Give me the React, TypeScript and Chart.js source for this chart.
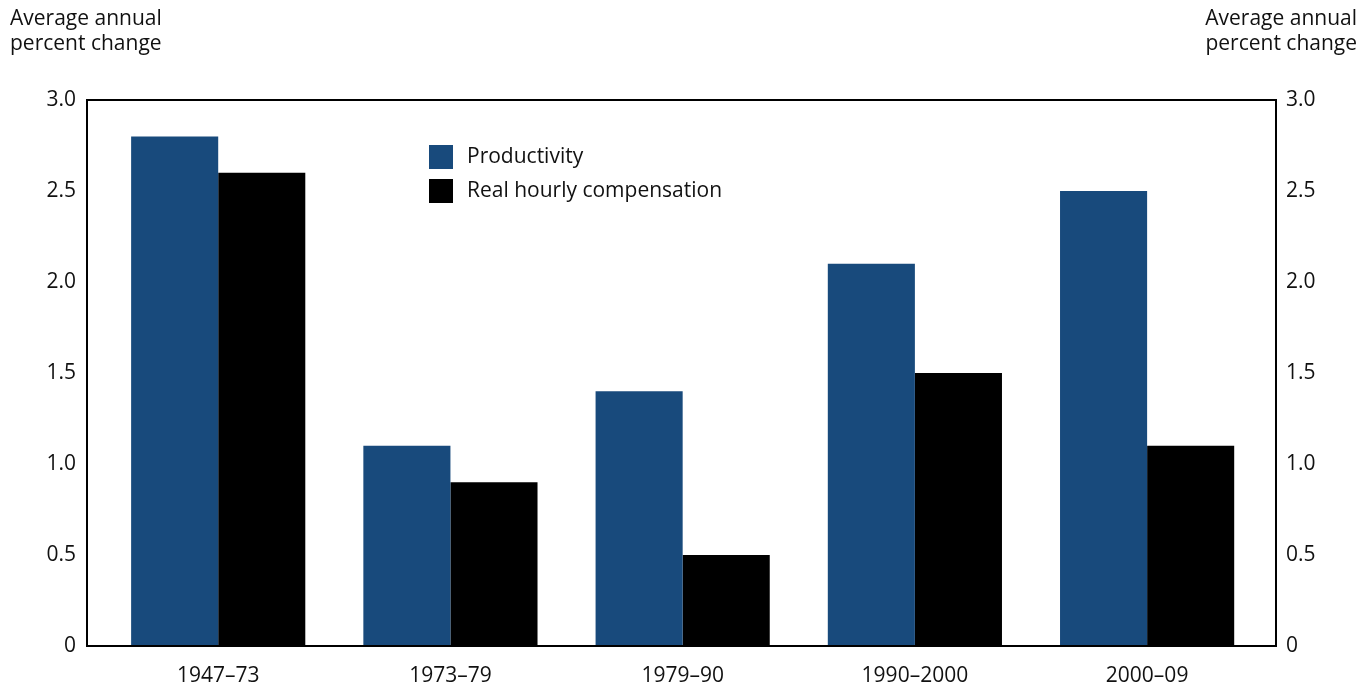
import React, { useEffect, useRef } from "react";
import { Chart, registerables } from "chart.js";

Chart.register(...registerables);

const categories = ["1947–73", "1973–79", "1979–90", "1990–2000", "2000–09"];
const productivity = [2.8, 1.1, 1.4, 2.1, 2.5];
const realComp = [2.6, 0.9, 0.5, 1.5, 1.1];
const seriesLabels = ["Productivity", "Real hourly compensation"];
const seriesColors = ["#184a7c", "#000000"];
const yTicks = [0, 0.5, 1.0, 1.5, 2.0, 2.5, 3.0];
const axisTitle = ["Average annual", "percent change"];

const FONT = "'Open Sans', 'Noto Sans', sans-serif";
const FS = 21;

const boxPlugin = {
  id: "boxAndLegend",
  afterDatasetsDraw(chart: any) {
    const { ctx, chartArea } = chart;
    ctx.save();
    ctx.strokeStyle = "#000";
    ctx.lineWidth = 2;
    ctx.strokeRect(chartArea.left, chartArea.top, chartArea.right - chartArea.left, chartArea.bottom - chartArea.top);
    // legend
    const lx = chartArea.left + 342;
    const ly = chartArea.top + 45;
    chart.data.datasets.forEach((ds: any, i: number) => {
      const y = ly + i * 34;
      ctx.fillStyle = ds.backgroundColor;
      ctx.fillRect(lx, y, 24, 24);
      ctx.fillStyle = "#111";
      ctx.font = `${FS}px ${FONT}`;
      ctx.textBaseline = "middle";
      ctx.textAlign = "left";
      ctx.fillText(ds.label, lx + 38, y + 12);
    });
    // axis titles
    ctx.font = `${FS}px ${FONT}`;
    ctx.fillStyle = "#111";
    ctx.textBaseline = "alphabetic";
    ctx.textAlign = "left";
    ctx.fillText(axisTitle[0], 10, 25);
    ctx.fillText(axisTitle[1], 10, 50);
    ctx.textAlign = "right";
    ctx.fillText(axisTitle[0], 1357, 25);
    ctx.fillText(axisTitle[1], 1357, 50);
    ctx.restore();
  },
};

export default function App() {
  const ref = useRef<HTMLCanvasElement>(null);
  useEffect(() => {
    if (!ref.current) return;
    const xs = categories.map((_, i) => i);
    const chart = new Chart(ref.current, {
      type: "bar",
      data: {
        datasets: [
          {
            label: seriesLabels[0],
            data: xs.map((x, i) => ({ x, y: productivity[i] })),
            backgroundColor: seriesColors[0],
            categoryPercentage: 0.75,
            barPercentage: 1.0,
          },
          {
            label: seriesLabels[1],
            data: xs.map((x, i) => ({ x, y: realComp[i] })),
            backgroundColor: seriesColors[1],
            categoryPercentage: 0.75,
            barPercentage: 1.0,
          },
        ],
      },
      plugins: [boxPlugin],
      options: {
        animation: false,
        responsive: false,
        maintainAspectRatio: false,
        layout: { padding: { top: 100, left: 0, right: 0, bottom: 0 } },
        plugins: { legend: { display: false }, tooltip: { enabled: false } },
        scales: {
          x: {
            type: "linear",
            min: -0.565,
            max: 4.555,
            offset: false,
            grid: { display: false, drawTicks: false },
            border: { display: false },
            afterBuildTicks: (axis: any) => {
              axis.ticks = categories.map((_, i) => ({ value: i }));
            },
            afterFit: (axis: any) => {
              axis.height = 44;
            },
            ticks: {
              autoSkip: false,
              maxRotation: 0,
              padding: 17,
              color: "#111",
              font: { family: FONT, size: FS },
              callback: (v: any) => categories[Math.round(Number(v))] ?? "",
            },
          },
          y: {
            position: "left",
            min: 0,
            max: 3,
            grid: { display: false, drawTicks: false },
            border: { display: false },
            afterBuildTicks: (axis: any) => {
              axis.ticks = yTicks.map((v) => ({ value: v }));
            },
            afterFit: (axis: any) => {
              axis.width = 87;
            },
            ticks: {
              padding: 11,
              color: "#111",
              font: { family: FONT, size: FS },
              callback: (v: any) => (Number(v) === 0 ? "0" : Number(v).toFixed(1)),
            },
          },
          y2: {
            position: "right",
            min: 0,
            max: 3,
            grid: { display: false, drawTicks: false },
            border: { display: false },
            afterBuildTicks: (axis: any) => {
              axis.ticks = yTicks.map((v) => ({ value: v }));
            },
            afterFit: (axis: any) => {
              axis.width = 96;
            },
            ticks: {
              padding: 10,
              color: "#111",
              font: { family: FONT, size: FS },
              callback: (v: any) => (Number(v) === 0 ? "0" : Number(v).toFixed(1)),
            },
          },
        },
      } as any,
    });
    return () => chart.destroy();
  }, []);
  return (
    <div style={{ position: "fixed", left: 0, top: 0, width: 1372, height: 690, background: "#fff" }}>
      <canvas ref={ref} width={1372} height={690} style={{ width: 1372, height: 690 }} />
    </div>
  );
}
